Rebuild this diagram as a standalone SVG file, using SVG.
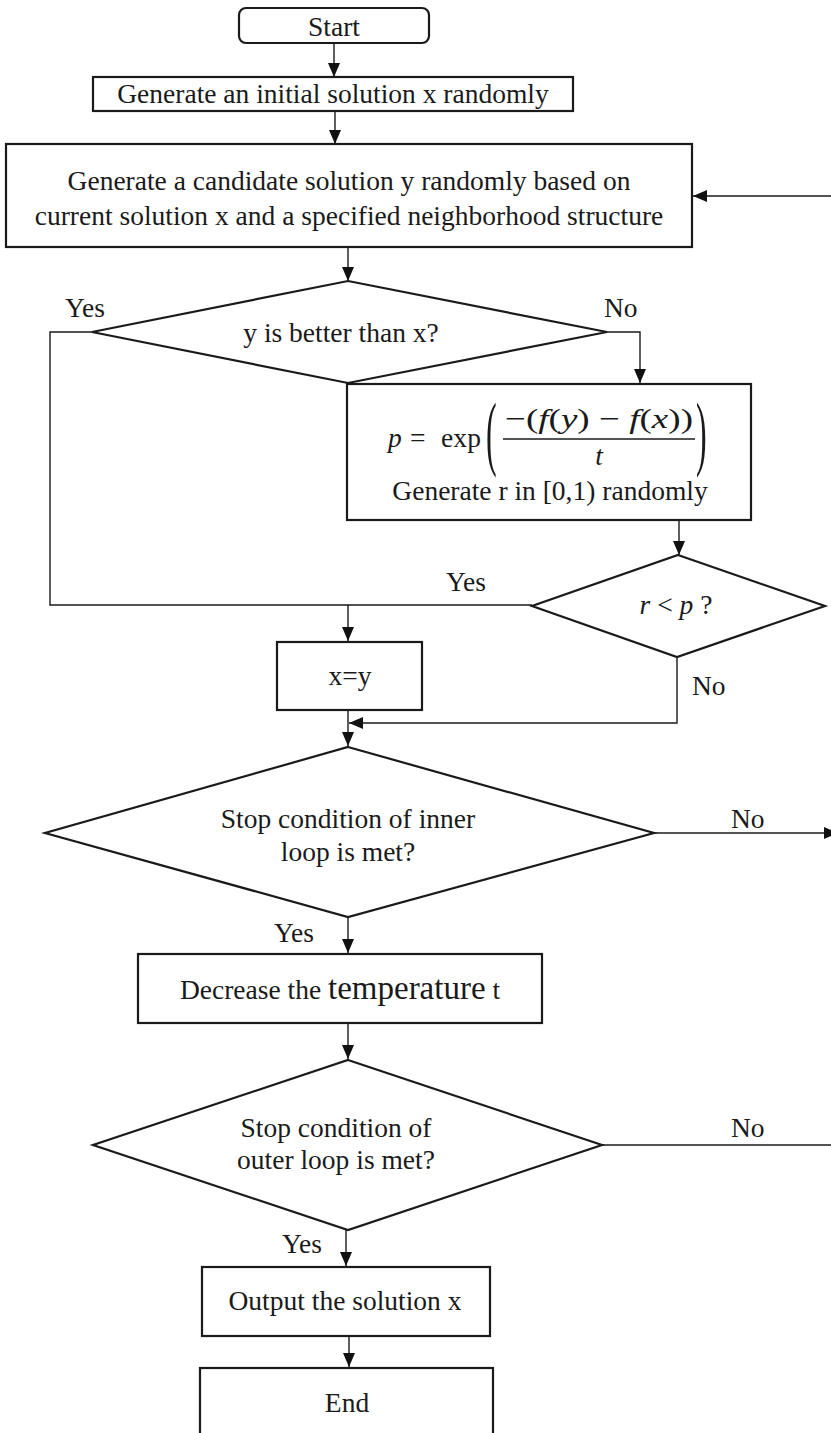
<svg xmlns="http://www.w3.org/2000/svg" width="831" height="1433" viewBox="0 0 831 1433">
<defs>
<marker id="arr" viewBox="0 0 14 12" refX="14" refY="6" markerWidth="14" markerHeight="12" markerUnits="userSpaceOnUse" orient="auto"><path d="M0,0 L14,6 L0,12 z" fill="#111"/></marker>
</defs>
<style>
.node{fill:#fff;stroke:#1a1a1a;stroke-width:2.2}
.conn{fill:none;stroke:#1a1a1a;stroke-width:1.4}
.arrow{marker-end:url(#arr)}
.t{font-family:"Liberation Serif","Times New Roman",serif;font-size:27.5px;fill:#1a1a1a}
.m{text-anchor:middle}
.i{font-style:italic}
</style>
<rect width="831" height="1433" fill="#fff"/>
<g id="connectors">
<path class="conn arrow" d="M334,43 V77"/>
<path class="conn arrow" d="M335,111 V144"/>
<path class="conn arrow" d="M831,196 H693"/>
<path class="conn arrow" d="M348,247 V281"/>
<path class="conn arrow" d="M607,332 H640 V383"/>
<path class="conn" d="M92,332 H50 V605 H532"/>
<path class="conn arrow" d="M348,605 V641"/>
<path class="conn arrow" d="M679,520 V555"/>
<path class="conn arrow" d="M677,657 V723 H349"/>
<path class="conn arrow" d="M348,710 V746"/>
<path class="conn arrow" d="M654,833 H838"/>
<path class="conn arrow" d="M348,917 V953"/>
<path class="conn arrow" d="M348,1023 V1059"/>
<path class="conn" d="M602,1145 H831"/>
<path class="conn arrow" d="M346,1230 V1266"/>
<path class="conn arrow" d="M349,1336 V1367"/>
<text class="t" x="65" y="317">Yes</text>
<text class="t" x="604" y="317">No</text>
<text class="t" x="446" y="591">Yes</text>
<text class="t" x="692" y="695">No</text>
<text class="t" x="731" y="828">No</text>
<text class="t" x="274" y="942">Yes</text>
<text class="t" x="731" y="1137">No</text>
<text class="t" x="282" y="1253">Yes</text>
</g>
<g id="start">
<rect class="node" x="239" y="8" width="190" height="35" rx="7"/>
<text class="t m" x="334" y="36">Start</text>
</g>
<g id="init">
<rect class="node" x="93" y="77" width="480" height="34"/>
<text class="t m" x="333" y="103">Generate an initial solution x randomly</text>
</g>
<g id="candidate">
<rect class="node" x="6" y="144" width="686" height="103"/>
<text class="t m" x="349" y="190">Generate a candidate solution y randomly based on</text>
<text class="t m" x="349" y="225">current solution x and a specified neighborhood structure</text>
</g>
<g id="better">
<polygon class="node" points="348,281 607,332 348,383 92,332"/>
<text class="t m" x="341" y="342">y is better than x?</text>
</g>
<g id="prob">
<rect class="node" x="347" y="384" width="404" height="136"/>
<text class="t i" x="388" y="447">p</text>
<text class="t" x="410" y="447">=</text>
<text class="t" x="441" y="447" textLength="40">exp</text>
<text class="t" transform="translate(486,460) scale(0.8,2.05)" style="font-size:40px">(</text>
<text class="t" x="505" y="428" textLength="188" lengthAdjust="spacingAndGlyphs">−(<tspan class="i">f</tspan>(<tspan class="i">y</tspan>) − <tspan class="i">f</tspan>(<tspan class="i">x</tspan>))</text>
<line x1="503" y1="439" x2="695" y2="439" stroke="#1a1a1a" stroke-width="1.6"/>
<text class="t m i" x="599" y="465">t</text>
<text class="t" transform="translate(696,460) scale(0.8,2.05)" style="font-size:40px">)</text>
<text class="t m" x="550" y="500">Generate r in [0,1) randomly</text>
</g>
<g id="accept">
<polygon class="node" points="678,555 825,606 677,657 532,606"/>
<text class="t m" x="676" y="614"><tspan class="i">r</tspan> &lt; <tspan class="i">p</tspan> ?</text>
</g>
<g id="assign">
<rect class="node" x="277" y="642" width="145" height="68"/>
<text class="t m" x="350" y="685">x=y</text>
</g>
<g id="inner">
<polygon class="node" points="348,747 654,833 348,917 45,833"/>
<text class="t m" x="348" y="828">Stop condition of inner</text>
<text class="t m" x="348" y="861">loop is met?</text>
</g>
<g id="decrease">
<rect class="node" x="138" y="954" width="404" height="69"/>
<text class="t m" x="340" y="999">Decrease the <tspan style="font-size:33px">temperature</tspan> t</text>
</g>
<g id="outer">
<polygon class="node" points="348,1060 602,1145 348,1230 93,1145"/>
<text class="t m" x="336" y="1137">Stop condition of</text>
<text class="t m" x="336" y="1169">outer loop is met?</text>
</g>
<g id="output">
<rect class="node" x="202" y="1267" width="288" height="69"/>
<text class="t m" x="345" y="1310">Output the solution x</text>
</g>
<g id="end">
<rect class="node" x="200" y="1368" width="293" height="80"/>
<text class="t m" x="347" y="1412">End</text>
</g>
</svg>
